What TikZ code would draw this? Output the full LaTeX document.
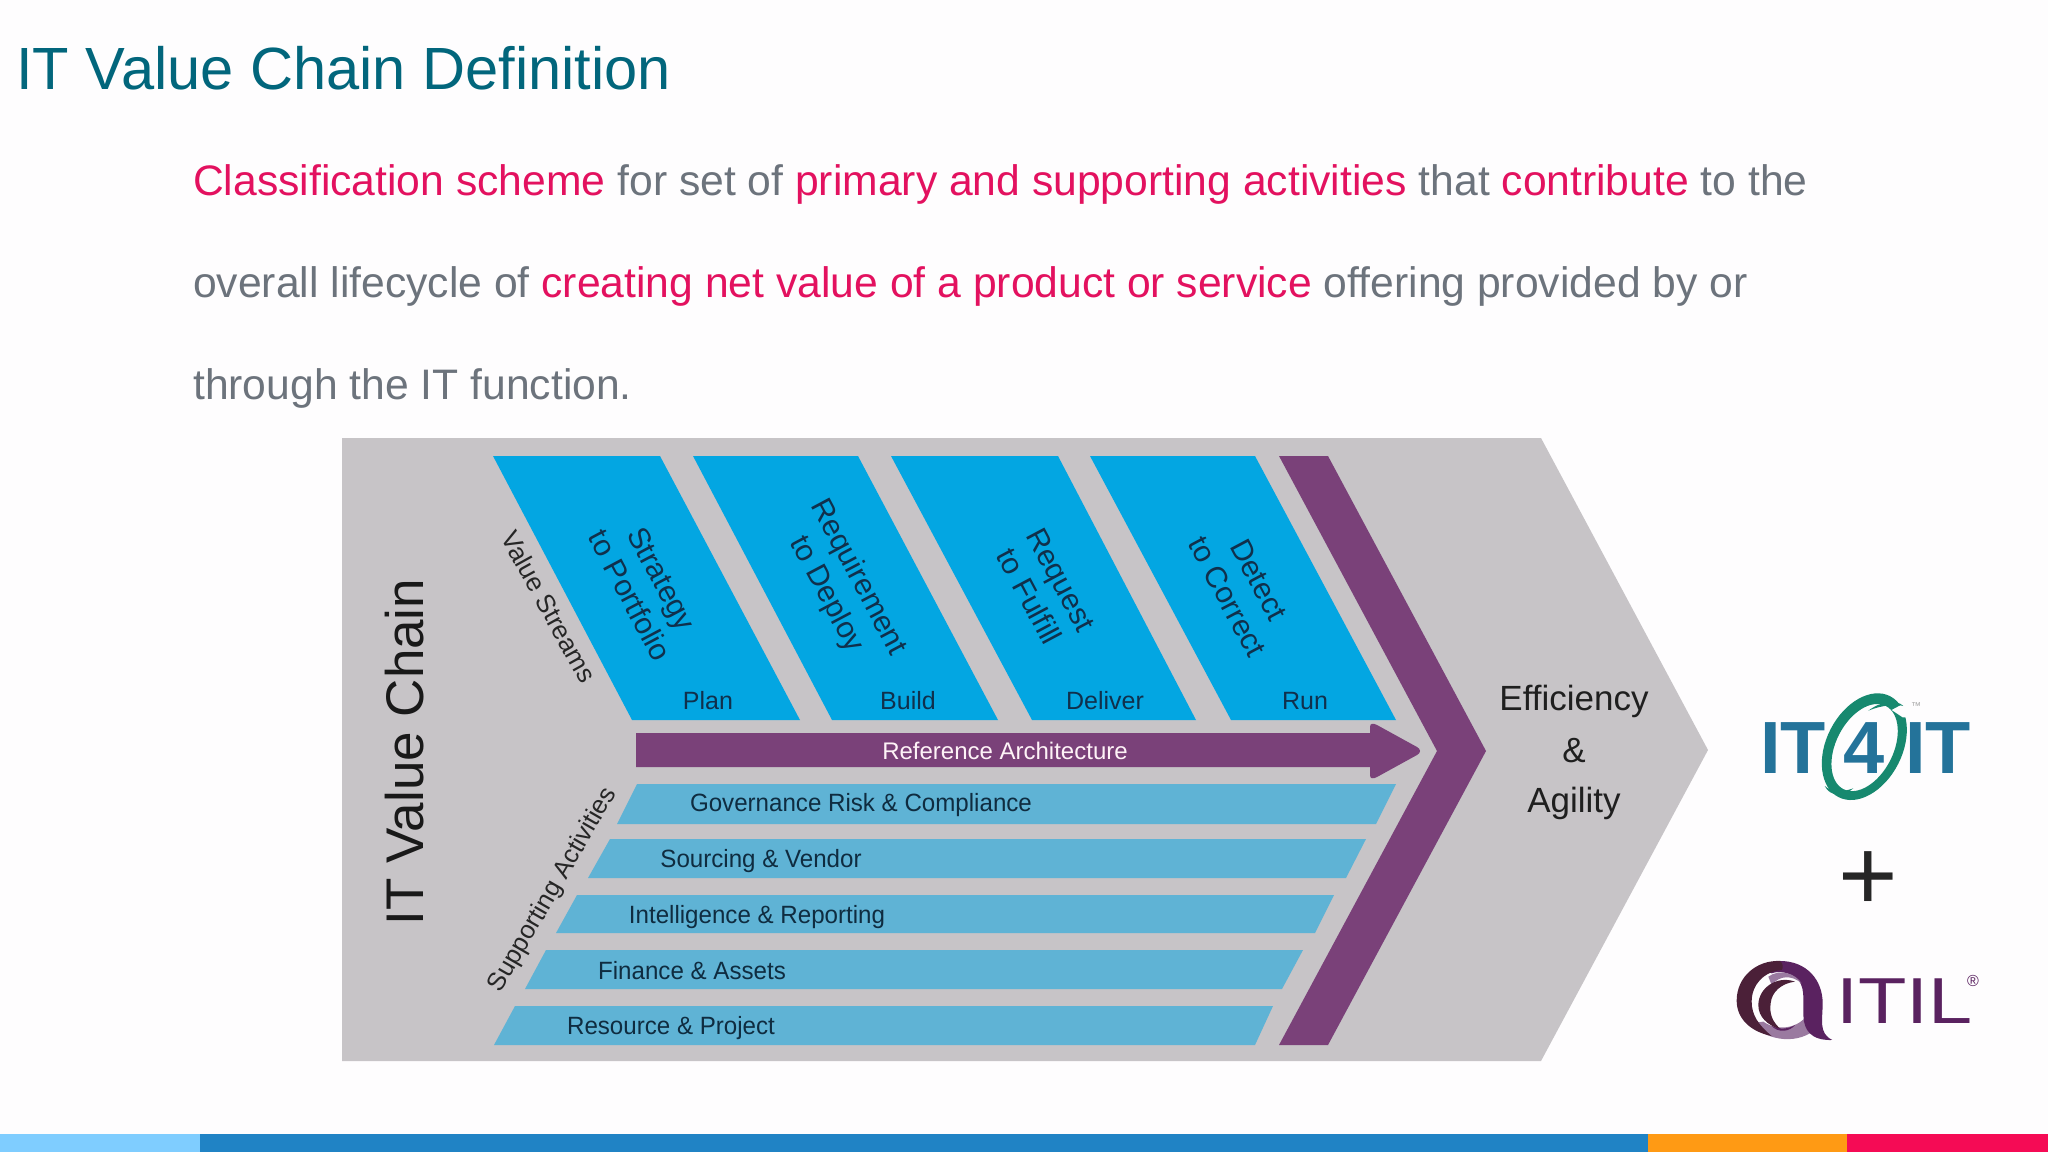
\documentclass[tikz,border=0pt]{standalone}
\usepackage{fontspec}
\setmainfont{Liberation Sans}
\definecolor{pagebg}{HTML}{FEFDFE}
\definecolor{titlec}{HTML}{02667C}
\definecolor{bodyg}{HTML}{6C737C}
\definecolor{pinkc}{HTML}{E3115F}
\definecolor{greyc}{HTML}{C7C4C7}
\definecolor{cyanc}{HTML}{03A6E2}
\definecolor{barc}{HTML}{5FB3D5}
\definecolor{purplec}{HTML}{7A4179}
\definecolor{navyt}{HTML}{10304C}
\definecolor{barnavy}{HTML}{0F2C40}
\definecolor{itblue}{HTML}{24739A}
\definecolor{itgreen}{HTML}{17896F}
\definecolor{itilp}{HTML}{5A2260}
\definecolor{itild}{HTML}{4B2038}
\definecolor{itill}{HTML}{9A7AA0}
\newcommand{\fs}[1]{\fontsize{#1}{#1}\selectfont}
\tikzset{
  bodyline/.style={anchor=base west,inner sep=0pt,text=bodyg,font=\fs{42.65}},
  vstream/.style={fill=cyanc},
  sbar/.style={fill=barc},
  vlabel/.style={rotate=-62,align=center,inner sep=0pt,text=navyt,font=\fs{30}\linespread{1.2}\selectfont},
  phase/.style={inner sep=0pt,text=navyt,font=\fs{25}},
  barlabel/.style={inner sep=0pt,text=barnavy,xscale=0.965,font=\fs{25}},
  sidelabel/.style={inner sep=0pt,text=black!85,font=\fs{26}},
  eff/.style={inner sep=0pt,text=black!88,font=\fs{35}},
}
\begin{document}
\begin{tikzpicture}[x=1pt,y=-1pt]
\useasboundingbox (0,0) rectangle (2048,1152);
\fill[pagebg] (0,0) rectangle (2048,1152);
% bottom bar
\fill[fill={rgb,255:red,127;green,205;blue,255}] (0,1134) rectangle (200,1152);
\fill[fill={rgb,255:red,32;green,131;blue,197}] (200,1134) rectangle (1648,1152);
\fill[fill={rgb,255:red,255;green,154;blue,20}] (1648,1134) rectangle (1847,1152);
\fill[fill={rgb,255:red,245;green,11;blue,85}] (1847,1134) rectangle (2048,1152);
% title and body
\node[anchor=base west,inner sep=0pt,text=titlec,font=\fs{59.6}] (title) at (16,89) {IT Value Chain Definition};
\node[bodyline] (l1) at (193,195.5) {\textcolor{pinkc}{Classification scheme} for set of \textcolor{pinkc}{primary and supporting activities} that \textcolor{pinkc}{contribute} to the};
\node[bodyline] (l2) at (193,297.5) {overall lifecycle of \textcolor{pinkc}{creating net value of a product or service} offering provided by or};
\node[bodyline] (l3) at (193,399.5) {through the IT function.};
% chevron background
\fill[greyc] (342,438) -- (1541,438) -- (1708,750) -- (1541,1061) -- (342,1061) -- cycle;
% value streams
\fill[vstream] (493,456) -- (660,456) -- (800,720) -- (632,720) -- cycle;
\fill[vstream] (693,456) -- (858,456) -- (998,720) -- (832,720) -- cycle;
\fill[vstream] (891,456) -- (1058,456) -- (1196,720) -- (1032,720) -- cycle;
\fill[vstream] (1090,456) -- (1255,456) -- (1396,720) -- (1231,720) -- cycle;
% purple chevron
\fill[purplec] (1279,456) -- (1328,456) -- (1486,751) -- (1328,1045) -- (1279,1045) -- (1437,751) -- cycle;
% reference arrow
\fill[purplec] (636,733) -- (1370,733) -- (1370,727) .. controls (1370,723) and (1373,723) .. (1377,725)
  -- (1417,747) .. controls (1421,749) and (1421,753) .. (1417,755)
  -- (1377,777) .. controls (1373,779) and (1370,779) .. (1370,775) -- (1370,767) -- (636,767) -- cycle;
% supporting bars
\fill[sbar] (637,784) -- (1396,784) -- (1376,824) -- (617,824) -- cycle;
\fill[sbar] (610,839) -- (1366,839) -- (1346,878) -- (588,878) -- cycle;
\fill[sbar] (577,895) -- (1334,895) -- (1315,933) -- (556,933) -- cycle;
\fill[sbar] (546,950) -- (1303,950) -- (1282,989) -- (525,989) -- cycle;
\fill[sbar] (515,1006) -- (1273,1006) -- (1255,1045) -- (494,1045) -- cycle;
% labels
\node[inner sep=0pt,rotate=90,text=black!90,font=\fs{53}] (ivc) at (405,752) {IT Value Chain};
\node[sidelabel,rotate=-61] (vs) at (549,607) {Value Streams};
\node[inner sep=0pt,text=black!85,font=\fs{25.5},rotate=60] (sa) at (553,890) {Supporting Activities};
\node[vlabel] (s2p) at (646,587) {Strategy\\to Portfolio};
\node[vlabel] (r2d) at (842,586) {Requirement\\to Deploy};
\node[vlabel] (r2f) at (1045,588) {Request\\to Fulfill};
\node[vlabel] (d2c) at (1243,588) {Detect\\to Correct};
\node[phase] (plan) at (708,701) {Plan};
\node[phase] (build) at (908,701) {Build};
\node[phase] (deliver) at (1105,701) {Deliver};
\node[phase] (run) at (1305,701) {Run};
\node[inner sep=0pt,text=white!95!pinkc,font=\fs{24}] (ra) at (1005,751) {Reference Architecture};
\node[barlabel] (b1) at (861,805) {Governance Risk \& Compliance};
\node[barlabel] (b2) at (761,861) {Sourcing \& Vendor};
\node[barlabel] (b3) at (757,917) {Intelligence \& Reporting};
\node[barlabel] (b4) at (692,971) {Finance \& Assets};
\node[barlabel] (b5) at (671,1028) {Resource \& Project};
\node[eff] (e1) at (1574,701) {Efficiency};
\node[eff] (e2) at (1574,751) {\&};
\node[eff] (e3) at (1574,803) {Agility};
% IT4IT logo
\begin{scope}[shift={(1700,660)},x=0.3333pt,y=-0.3333pt]
  \fill[itgreen,even odd rule,rotate around={-27:(493,260)}] (493,260) ellipse [x radius=114,y radius=170]
     (495,262) ellipse [x radius=86,y radius=140];
  \fill[pagebg] (575,150) -- (640,115) -- (650,172) -- (608,172) -- cycle;
  \fill[itgreen] (505,152) .. controls (545,122) and (590,118) .. (610,138) .. controls (590,132) and (545,135) .. (505,152) -- cycle;
  \fill[itgreen] (374,378) .. controls (395,395) and (425,398) .. (460,385) .. controls (430,412) and (390,410) .. (374,378) -- cycle;
\end{scope}
\node[inner sep=0pt,text=itblue,font=\bfseries\fs{74}] (it1) at (1793,748) {IT};
\node[inner sep=0pt,text=itblue,font=\bfseries\fs{74}] (four) at (1864,748) {4};
\node[inner sep=0pt,text=itblue,font=\bfseries\fs{74}] (it2) at (1938,748) {IT};
\node[inner sep=0pt,text=gray!70,font=\fs{10}] (tm) at (1916,706) {™};
\node[inner sep=0pt,text=black!85,font=\fs{102}] (plus) at (1868,881) {+};
% ITIL logo
\begin{scope}[shift={(1700,660)},x=0.3333pt,y=-0.3333pt]
  \fill[itill] (150,1090) .. controls (190,1135) and (280,1160) .. (345,1110) -- (330,1050) .. controls (310,1100) and (240,1120) .. (190,1085) -- cycle;
  \fill[itilp] (240,903) .. controls (320,903) and (368,960) .. (368,1030)
     .. controls (368,1080) and (355,1120) .. (397,1140)
     .. controls (350,1142) and (320,1125) .. (312,1085)
     .. controls (305,1040) and (320,990) .. (295,960)
     .. controls (275,940) and (240,930) .. (215,940) -- (180,925) -- cycle;
  \fill[itill] (205,950) .. controls (240,925) and (285,940) .. (305,970) .. controls (275,945) and (240,945) .. (215,975) -- cycle;
  \fill[itild] (240,903) .. controls (170,900) and (110,950) .. (110,1022)
     .. controls (110,1075) and (150,1115) .. (215,1128)
     .. controls (175,1095) and (155,1065) .. (155,1025)
     .. controls (155,975) and (190,935) .. (245,930)
     .. controls (250,925) and (250,910) .. (240,903) -- cycle;
  \fill[itild] (285,965) .. controls (230,945) and (175,985) .. (175,1035)
     .. controls (175,1070) and (200,1095) .. (245,1110)
     .. controls (215,1085) and (208,1060) .. (212,1030)
     .. controls (215,995) and (245,970) .. (285,965) -- cycle;
  \fill[itilp] (215,1098) .. controls (240,1112) and (270,1105) .. (285,1095) .. controls (270,1115) and (235,1120) .. (215,1098) -- cycle;
\end{scope}
\node[inner sep=0pt,anchor=west,text=itilp,xscale=1.22,font=\fs{65}] (itil) at (1836,1001) {ITIL};
\node[inner sep=0pt,text=itilp,font=\fs{16}] (reg) at (1973,981) {®};
\end{tikzpicture}
\end{document}
